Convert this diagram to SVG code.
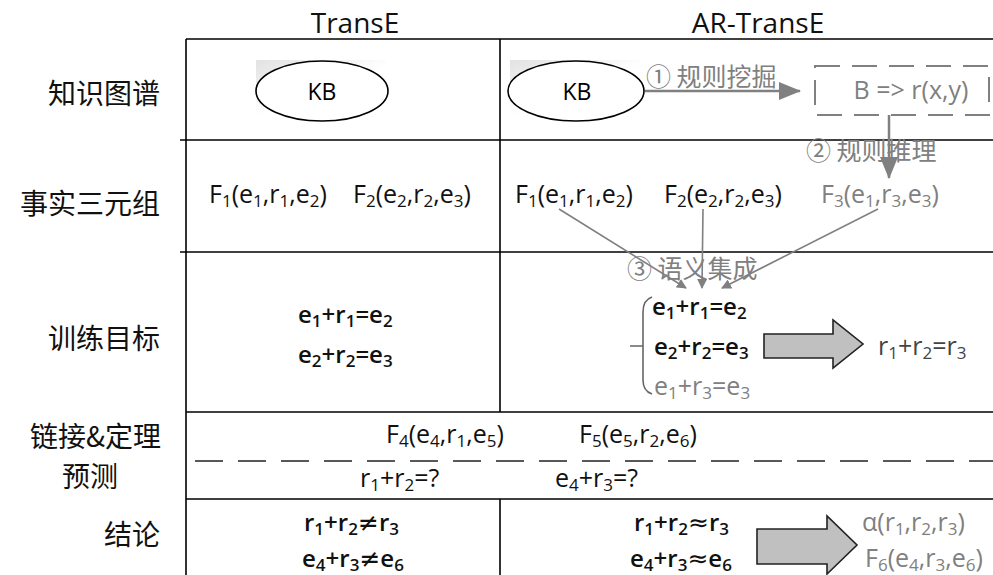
<svg xmlns="http://www.w3.org/2000/svg" width="993" height="575" viewBox="0 0 993 575">
<style>
  .bg{fill:#fff}
  .grid{stroke:#000;stroke-width:1.6;fill:none}
  .dash{stroke:#222;stroke-width:1.6;stroke-dasharray:28 15;fill:none}
  .hdr{font-family:"Open Sans","Liberation Sans",sans-serif;font-size:28px;fill:#111}
  .lbl{font-family:"Noto Sans CJK SC",sans-serif;font-size:28px;fill:#111;text-anchor:end}
  .m{font-family:"Open Sans","Liberation Sans",sans-serif;font-size:25px;fill:#111}
  .eq{font-family:"Open Sans","Liberation Sans",sans-serif;font-size:24px;font-weight:600;fill:#111}
  .g{fill:#808080}
  .d{fill:#444}
  .s{font-size:17px;baseline-shift:-4px}
  .sym{font-family:"DejaVu Sans",sans-serif;font-size:25px;font-weight:400}
  .cn{font-family:"Noto Sans CJK SC",sans-serif;font-size:25px;fill:#808080}
  .kb{fill:#fff;stroke:#000;stroke-width:1.6}
  .kbt{font-family:"Open Sans","Liberation Sans",sans-serif;font-size:23px;fill:#000;text-anchor:middle}
  .con{stroke:#808080;stroke-width:1.6;fill:none}
  .conb{stroke:#808080;stroke-width:2.5;fill:none}
  .block{fill:#c0c0c0;stroke:#222;stroke-width:1.6}
</style>
<defs>
  <marker id="ah" markerWidth="10" markerHeight="10" refX="9" refY="5" orient="auto" markerUnits="userSpaceOnUse">
    <path d="M0,0 L10,5 L0,10 z" fill="#808080"/>
  </marker>
  <marker id="ahb" markerWidth="22" markerHeight="18" refX="21" refY="9" orient="auto" markerUnits="userSpaceOnUse">
    <path d="M0,0 L22,9 L0,18 z" fill="#808080"/>
  </marker>
  <linearGradient id="shade" x1="0" y1="0" x2="0.8" y2="1">
    <stop offset="0" stop-color="#e2e2e2"/>
    <stop offset="0.4" stop-color="#f6f6f6"/>
    <stop offset="0.6" stop-color="#fff" stop-opacity="0"/>
  </linearGradient>
</defs>
<rect class="bg" x="0" y="0" width="993" height="575"/>

<g id="headers">
  <text class="hdr" x="355" y="33" text-anchor="middle">TransE</text>
  <text class="hdr" x="758" y="33" text-anchor="middle">AR-TransE</text>
</g>

<g id="table">
  <line class="grid" x1="186" y1="39" x2="993" y2="39"/>
  <line class="grid" x1="180" y1="140" x2="993" y2="140"/>
  <line class="grid" x1="180" y1="252" x2="993" y2="252"/>
  <line class="grid" x1="186" y1="412" x2="993" y2="412"/>
  <line class="grid" x1="186" y1="499" x2="993" y2="499"/>
  <line class="grid" x1="186" y1="39" x2="186" y2="575"/>
  <line class="grid" x1="500" y1="39" x2="500" y2="412"/>
  <line class="grid" x1="500" y1="499" x2="500" y2="575"/>
  <line class="dash" x1="195" y1="461" x2="993" y2="461"/>
</g>

<g id="row-labels">
  <text class="lbl" x="160" y="104">知识图谱</text>
  <text class="lbl" x="160" y="214">事实三元组</text>
  <text class="lbl" x="160" y="349">训练目标</text>
  <text class="lbl" x="161" y="447">链接&amp;定理</text>
  <text class="lbl" x="118" y="487">预测</text>
  <text class="lbl" x="160" y="545">结论</text>
</g>

<g id="kb-left">
  <rect x="256" y="60" width="130" height="62" fill="url(#shade)"/>
  <ellipse class="kb" cx="322" cy="91" rx="66" ry="30"/>
  <text class="kbt" x="322" y="100">KB</text>
</g>

<g id="kb-right">
  <rect x="510" y="60" width="130" height="62" fill="url(#shade)"/>
  <ellipse class="kb" cx="576" cy="91" rx="68" ry="30"/>
  <text class="kbt" x="577" y="100">KB</text>
</g>

<g id="rule-box">
  <rect x="815" y="66" width="174" height="49" fill="none" stroke="#808080" stroke-width="2" stroke-dasharray="25 12"/>
  <text class="m g" x="911" y="99" text-anchor="middle">B =&gt; r(x,y)</text>
</g>

<g id="facts-left">
  <text class="m" x="209" y="203">F<tspan class="s">1</tspan>(e<tspan class="s">1</tspan>,r<tspan class="s">1</tspan>,e<tspan class="s">2</tspan>)</text>
  <text class="m" x="353" y="203">F<tspan class="s">2</tspan>(e<tspan class="s">2</tspan>,r<tspan class="s">2</tspan>,e<tspan class="s">3</tspan>)</text>
</g>

<g id="fact-f1">
  <text class="m" x="515" y="203">F<tspan class="s">1</tspan>(e<tspan class="s">1</tspan>,r<tspan class="s">1</tspan>,e<tspan class="s">2</tspan>)</text>
</g>
<g id="fact-f2">
  <text class="m" x="664" y="203">F<tspan class="s">2</tspan>(e<tspan class="s">2</tspan>,r<tspan class="s">2</tspan>,e<tspan class="s">3</tspan>)</text>
</g>
<g id="fact-f3">
  <text class="m g" x="821" y="203">F<tspan class="s">3</tspan>(e<tspan class="s">1</tspan>,r<tspan class="s">3</tspan>,e<tspan class="s">3</tspan>)</text>
</g>

<g id="train-left">
  <text class="eq" x="298" y="323">e<tspan class="s">1</tspan>+r<tspan class="s">1</tspan>=e<tspan class="s">2</tspan></text>
  <text class="eq" x="298" y="363">e<tspan class="s">2</tspan>+r<tspan class="s">2</tspan>=e<tspan class="s">3</tspan></text>
</g>

<g id="train-right">
  <path d="M652,297 Q643,300 643,312 L643,380 Q643,391 652,394 M630,346 L643,346" fill="none" stroke="#666" stroke-width="1.6"/>
  <text class="eq" x="652" y="315">e<tspan class="s">1</tspan>+r<tspan class="s">1</tspan>=e<tspan class="s">2</tspan></text>
  <text class="eq" x="654" y="355">e<tspan class="s">2</tspan>+r<tspan class="s">2</tspan>=e<tspan class="s">3</tspan></text>
  <text class="m g" x="654" y="395">e<tspan class="s">1</tspan>+r<tspan class="s">3</tspan>=e<tspan class="s">3</tspan></text>
</g>

<g id="arrow-train">
  <path class="block" d="M764,334 L833,334 L833,320 L863,344 L833,368 L833,358 L764,358 Z"/>
</g>
<g id="result-train">
  <text class="m d" x="878" y="355">r<tspan class="s">1</tspan>+r<tspan class="s">2</tspan>=r<tspan class="s">3</tspan></text>
</g>

<g id="link-pred">
  <text class="m" x="386" y="443">F<tspan class="s">4</tspan>(e<tspan class="s">4</tspan>,r<tspan class="s">1</tspan>,e<tspan class="s">5</tspan>)</text>
  <text class="m" x="579" y="443">F<tspan class="s">5</tspan>(e<tspan class="s">5</tspan>,r<tspan class="s">2</tspan>,e<tspan class="s">6</tspan>)</text>
  <text class="m" x="360" y="487">r<tspan class="s">1</tspan>+r<tspan class="s">2</tspan>=?</text>
  <text class="m" x="555" y="487">e<tspan class="s">4</tspan>+r<tspan class="s">3</tspan>=?</text>
</g>

<g id="concl-left">
  <text class="eq" x="304" y="531">r<tspan class="s">1</tspan>+r<tspan class="s">2</tspan><tspan class="sym">≠</tspan>r<tspan class="s">3</tspan></text>
  <text class="eq" x="302" y="567">e<tspan class="s">4</tspan>+r<tspan class="s">3</tspan><tspan class="sym">≠</tspan>e<tspan class="s">6</tspan></text>
</g>

<g id="concl-right">
  <text class="eq" x="634" y="531">r<tspan class="s">1</tspan>+r<tspan class="s">2</tspan><tspan class="sym">≈</tspan>r<tspan class="s">3</tspan></text>
  <text class="eq" x="630" y="567">e<tspan class="s">4</tspan>+r<tspan class="s">3</tspan><tspan class="sym">≈</tspan>e<tspan class="s">6</tspan></text>
</g>

<g id="arrow-concl">
  <path class="block" d="M757,529 L827,529 L827,516 L857,545 L827,574 L827,564 L757,564 Z"/>
</g>
<g id="result-concl">
  <text class="m g" x="862" y="531">α(r<tspan class="s">1</tspan>,r<tspan class="s">2</tspan>,r<tspan class="s">3</tspan>)</text>
  <text class="m g" x="865" y="567">F<tspan class="s">6</tspan>(e<tspan class="s">4</tspan>,r<tspan class="s">3</tspan>,e<tspan class="s">6</tspan>)</text>
</g>

<g id="connectors">
  <line class="conb" x1="645" y1="91" x2="800" y2="91" marker-end="url(#ahb)"/>
  <text class="cn" x="646" y="86">① 规则挖掘</text>
  <line class="conb" x1="889" y1="115" x2="889" y2="178" marker-end="url(#ahb)"/>
  <text class="cn" x="806" y="160">② 规则推理</text>
  <line class="con" x1="559" y1="209" x2="686" y2="288" marker-end="url(#ah)"/>
  <line class="con" x1="703" y1="209" x2="702" y2="288" marker-end="url(#ah)"/>
  <line class="con" x1="878" y1="209" x2="722" y2="288" marker-end="url(#ah)"/>
  <text class="cn" x="627" y="278">③ 语义集成</text>
</g>
</svg>
